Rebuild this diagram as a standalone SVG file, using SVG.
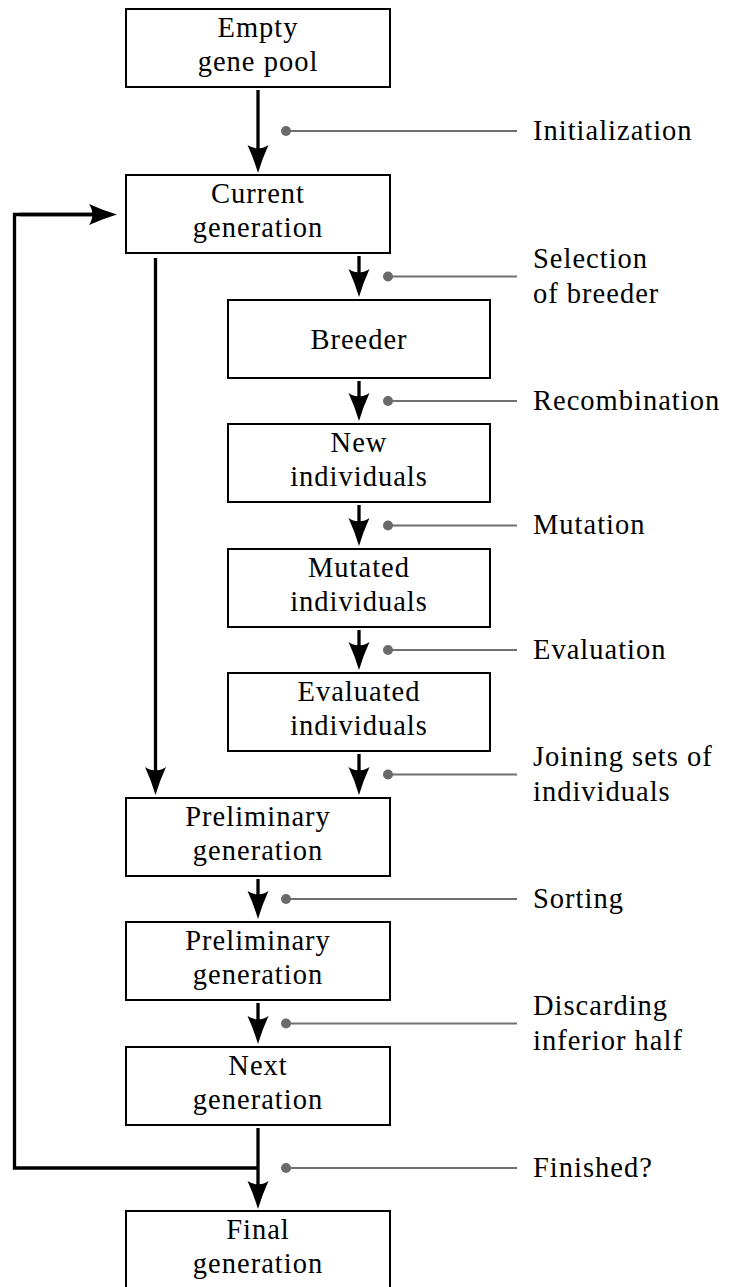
<svg xmlns="http://www.w3.org/2000/svg" width="731" height="1287" viewBox="0 0 731 1287">
<defs>
<style>
.box{fill:#fff;stroke:#000;stroke-width:2}
.t{font-family:"Liberation Serif","Times New Roman",serif;font-size:28.5px;letter-spacing:1px;fill:#000}
.c{text-anchor:middle}
.arr{fill:none;stroke:#000;stroke-width:3.3;marker-end:url(#ah)}
.fb{fill:none;stroke:#000;stroke-width:3.3}
.lead{stroke:#707070;stroke-width:2}
.dot{fill:#6a6a6a}
</style>
<marker id="ah" markerUnits="userSpaceOnUse" viewBox="0 -11 30 22" markerWidth="30" markerHeight="22" refX="10" refY="0" orient="auto">
<path d="M28,0 Q13,-4.5 0,-10.5 Q4,-4 3,0 Q4,4 0,10.5 Q13,4.5 28,0 Z" fill="#000"/>
</marker>
</defs>
<rect width="731" height="1287" fill="#fff"/>

<g id="connectors">
<path class="arr" d="M258,90 V155"/>
<path class="arr" d="M359,256 V279"/>
<path class="arr" d="M359,381 V403"/>
<path class="arr" d="M359,505 V528"/>
<path class="arr" d="M359,630 V652"/>
<path class="arr" d="M359,754 V777"/>
<path class="arr" d="M155.5,258 V777"/>
<path class="arr" d="M258,879 V901"/>
<path class="arr" d="M258,1003 V1026"/>
<path class="arr" d="M258,1128 V1191"/>
<path class="fb" d="M258,1168 H14.5 V214.5 H100"/>
<path class="arr" d="M20,214.5 H99"/>
</g>

<g id="n-empty"><rect class="box" x="126" y="9" width="264" height="78"/>
<text class="t c" x="258" y="37">Empty</text><text class="t c" x="258" y="71">gene pool</text></g>
<g id="n-current"><rect class="box" x="126" y="175" width="264" height="78"/>
<text class="t c" x="258" y="203">Current</text><text class="t c" x="258" y="237">generation</text></g>
<g id="n-breeder"><rect class="box" x="228" y="300" width="262" height="78"/>
<text class="t c" x="359" y="349">Breeder</text></g>
<g id="n-new"><rect class="box" x="228" y="424" width="262" height="78"/>
<text class="t c" x="359" y="452">New</text><text class="t c" x="359" y="486">individuals</text></g>
<g id="n-mutated"><rect class="box" x="228" y="549" width="262" height="78"/>
<text class="t c" x="359" y="577">Mutated</text><text class="t c" x="359" y="611">individuals</text></g>
<g id="n-evaluated"><rect class="box" x="228" y="673" width="262" height="78"/>
<text class="t c" x="359" y="701">Evaluated</text><text class="t c" x="359" y="735">individuals</text></g>
<g id="n-prelim1"><rect class="box" x="126" y="798" width="264" height="78"/>
<text class="t c" x="258" y="826">Preliminary</text><text class="t c" x="258" y="860">generation</text></g>
<g id="n-prelim2"><rect class="box" x="126" y="922" width="264" height="78"/>
<text class="t c" x="258" y="950">Preliminary</text><text class="t c" x="258" y="984">generation</text></g>
<g id="n-next"><rect class="box" x="126" y="1047" width="264" height="78"/>
<text class="t c" x="258" y="1075">Next</text><text class="t c" x="258" y="1109">generation</text></g>
<g id="n-final"><rect class="box" x="126" y="1211" width="264" height="78"/>
<text class="t c" x="258" y="1239">Final</text><text class="t c" x="258" y="1273">generation</text></g>

<g id="annotations">
<g id="a-init"><line class="lead" x1="286" y1="131" x2="517" y2="131"/><circle class="dot" cx="286" cy="131" r="5"/><text class="t" x="533" y="140">Initialization</text></g>
<g id="a-select"><line class="lead" x1="388" y1="276.5" x2="517" y2="276.5"/><circle class="dot" cx="388" cy="276.5" r="5"/><text class="t" x="533" y="268">Selection</text><text class="t" x="533" y="303">of breeder</text></g>
<g id="a-recomb"><line class="lead" x1="388" y1="401" x2="517" y2="401"/><circle class="dot" cx="388" cy="401" r="5"/><text class="t" x="533" y="410">Recombination</text></g>
<g id="a-mut"><line class="lead" x1="388" y1="525.5" x2="517" y2="525.5"/><circle class="dot" cx="388" cy="525.5" r="5"/><text class="t" x="533" y="534">Mutation</text></g>
<g id="a-eval"><line class="lead" x1="388" y1="650" x2="517" y2="650"/><circle class="dot" cx="388" cy="650" r="5"/><text class="t" x="533" y="659">Evaluation</text></g>
<g id="a-join"><line class="lead" x1="388" y1="774.5" x2="517" y2="774.5"/><circle class="dot" cx="388" cy="774.5" r="5"/><text class="t" x="533" y="766">Joining sets of</text><text class="t" x="533" y="801">individuals</text></g>
<g id="a-sort"><line class="lead" x1="286" y1="899" x2="517" y2="899"/><circle class="dot" cx="286" cy="899" r="5"/><text class="t" x="533" y="908">Sorting</text></g>
<g id="a-discard"><line class="lead" x1="286" y1="1023.5" x2="517" y2="1023.5"/><circle class="dot" cx="286" cy="1023.5" r="5"/><text class="t" x="533" y="1015">Discarding</text><text class="t" x="533" y="1050">inferior half</text></g>
<g id="a-finish"><line class="lead" x1="286" y1="1168" x2="517" y2="1168"/><circle class="dot" cx="286" cy="1168" r="5"/><text class="t" x="533" y="1177">Finished?</text></g>
</g>
</svg>
